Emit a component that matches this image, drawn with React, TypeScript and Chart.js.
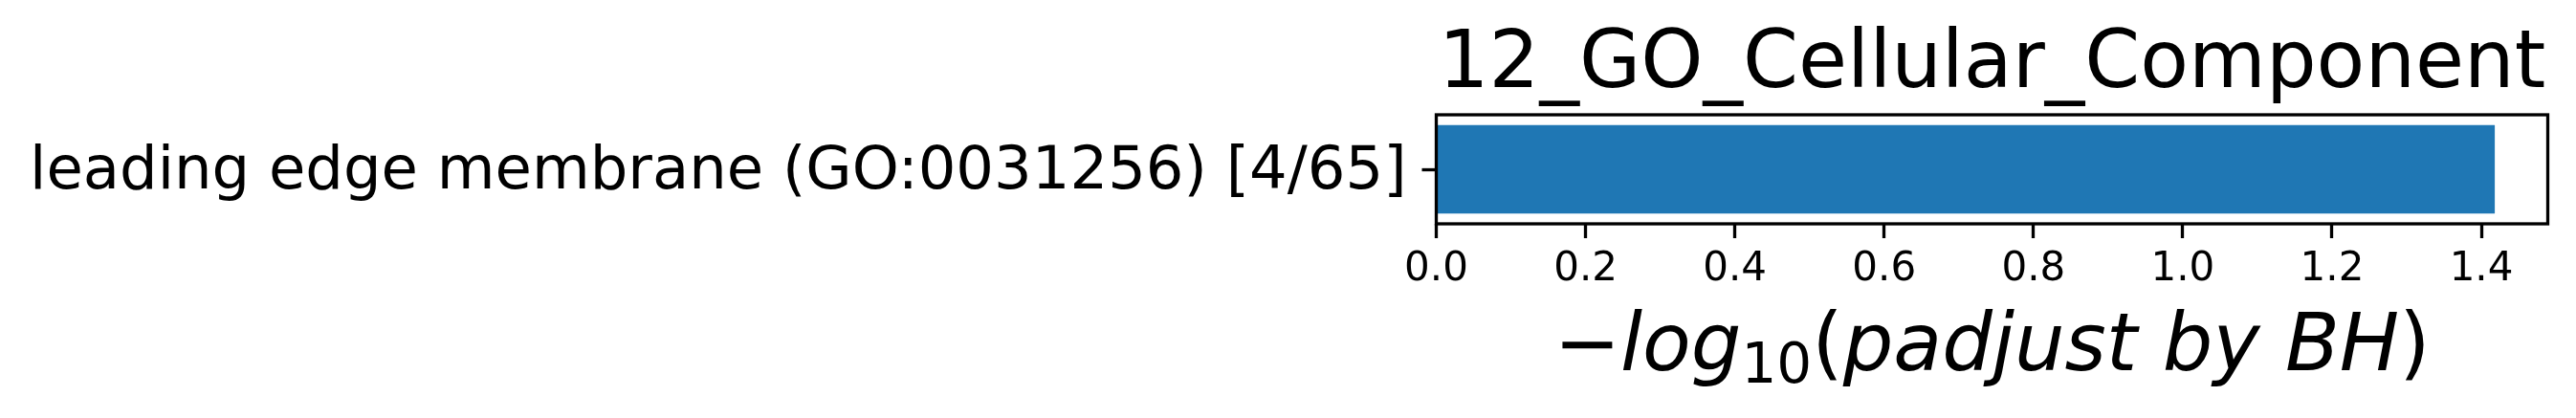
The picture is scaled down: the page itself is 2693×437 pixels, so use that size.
import React, { useEffect, useRef } from "react";
import { Chart, registerables } from "chart.js";

Chart.register(...registerables);

const chartTitle = "12_GO_Cellular_Component";
const categories = ["leading edge membrane (GO:0031256) [4/65]"];
const values = [1.418];
const xTickValues = [0, 0.2, 0.4, 0.6, 0.8, 1.0, 1.2, 1.4];
const xMax = 1.489;
const xLabelParts = [
  { t: "−", italic: false, sub: false },
  { t: "log", italic: true, sub: false },
  { t: "10", italic: false, sub: true },
  { t: "(", italic: false, sub: false },
  { t: "padjust by BH", italic: true, sub: false },
  { t: ")", italic: false, sub: false },
];

const FONT = "'DejaVu Sans'";

const framePlugin = {
  id: "frame",
  afterDatasetsDraw(chart: any) {
    const { ctx, chartArea } = chart;
    ctx.save();
    ctx.strokeStyle = "#000";
    ctx.lineWidth = 3.3;
    ctx.strokeRect(chartArea.left, chartArea.top, chartArea.right - chartArea.left, chartArea.bottom - chartArea.top);
    ctx.restore();
  },
};

const xLabelPlugin = {
  id: "xlabel",
  afterDraw(chart: any) {
    const { ctx, chartArea } = chart;
    const big = 83;
    const small = 58;
    ctx.save();
    ctx.fillStyle = "#000";
    ctx.textBaseline = "alphabetic";
    ctx.textAlign = "left";
    const fontOf = (p: any) => `${p.italic ? "italic " : ""}${p.sub ? small : big}px ${FONT}`;
    let total = 0;
    const widths = xLabelParts.map((p) => {
      ctx.font = fontOf(p);
      const w = ctx.measureText(p.t).width;
      total += w;
      return w;
    });
    const cx = (chartArea.left + chartArea.right) / 2;
    let x = cx - total / 2;
    const baseY = chartArea.bottom + 153;
    xLabelParts.forEach((p, i) => {
      ctx.font = fontOf(p);
      ctx.fillText(p.t, x, baseY + (p.sub ? 13 : 0));
      x += widths[i];
    });
    ctx.restore();
  },
};

export default function App() {
  const ref = useRef<HTMLCanvasElement | null>(null);
  useEffect(() => {
    document.body.style.margin = "0";
    const canvas = ref.current!;
    const chart = new Chart(canvas, {
      type: "bar",
      data: {
        labels: categories,
        datasets: [
          {
            data: values,
            backgroundColor: "#1f77b4",
            borderWidth: 0,
            barPercentage: 0.81,
            categoryPercentage: 1,
          },
        ],
      },
      options: {
        indexAxis: "y",
        animation: false,
        responsive: false,
        devicePixelRatio: 1,
        layout: { padding: { left: 0, right: 29.5, top: 0, bottom: 0 } },
        plugins: {
          legend: { display: false },
          tooltip: { enabled: false },
          title: {
            display: true,
            text: chartTitle,
            fullSize: false,
            color: "#000",
            font: { family: FONT, size: 83, weight: "normal", lineHeight: 1.2 },
            padding: { top: 20, bottom: 0.4 },
          },
        },
        scales: {
          x: {
            type: "linear",
            min: 0,
            max: xMax,
            border: { display: false },
            grid: {
              display: true,
              drawOnChartArea: false,
              drawTicks: true,
              tickLength: 15,
              tickWidth: 3.3,
              color: "#000",
            },
            ticks: {
              color: "#000",
              padding: 8,
              font: { family: FONT, size: 42 },
              callback: (v: any) => Number(v).toFixed(1),
            },
            afterBuildTicks: (scale: any) => {
              scale.ticks = xTickValues.map((v) => ({ value: v }));
            },
            afterFit: (scale: any) => {
              scale.height = 203;
            },
          },
          y: {
            type: "category",
            border: { display: false },
            grid: {
              display: true,
              offset: false,
              drawOnChartArea: false,
              drawTicks: true,
              tickLength: 15,
              tickWidth: 3.3,
              color: "#000",
            },
            ticks: {
              color: "#000",
              padding: 16,
              labelOffset: 4,
              font: { family: FONT, size: 62.4 },
            },
            afterFit: (scale: any) => {
              scale.width = 1501.5;
            },
          },
        },
      },
      plugins: [framePlugin, xLabelPlugin],
    });
    return () => chart.destroy();
  }, []);
  return <canvas ref={ref} width={2693} height={437} style={{ display: "block", width: 2693, height: 437 }} />;
}
